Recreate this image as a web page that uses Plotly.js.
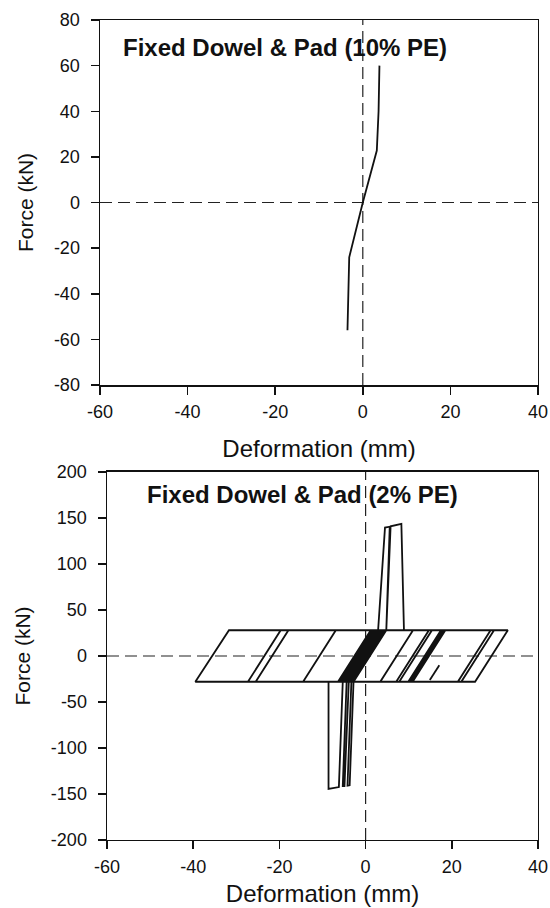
<!DOCTYPE html>
<html>
<head>
<meta charset="utf-8">
<script src="https://cdn.plot.ly/plotly-3.0.1.min.js"></script>
<style>
  html, body { margin: 0; padding: 0; background: #ffffff; }
  #chart { width: 550px; height: 908px; }
</style>
</head>
<body>
<div id="chart"></div>
<script>
// ---------- Texts ----------
const panelTitles = ["Fixed Dowel & Pad (10% PE)", "Fixed Dowel & Pad (2% PE)"];
const xTitle = "Deformation (mm)";
const yTitle = "Force (kN)";

// ---------- Data: top panel (10% PE) ----------
const deform10 = [-3.5, -3.3, -3.1, 0, 3.2, 3.6, 3.8];
const force10  = [-56, -35, -24, 0, 22.8, 40, 60];

// ---------- Data: bottom panel (2% PE) ----------
const deform2 = [
  0, 2.9, 4.5, 5.6, 4.8, -2.8, -3.7, -4.2, -3.3, 4.3, 4.8, 5.8, 8.3, 8.9, 11.0, 3.4,
  -3.9, -4.9, -5.3, -4.4, 3.2, 3.6, -4.0, -4.8, 2.8, 3.4, -4.2, -5.6, 2.0, 2.5, -5.1,
  -6.0, 1.6, 2.2, -5.4, -6.4, 1.2, 1.9, -5.7, -3.0, 4.6, 4.2, -3.4, -3.6, 4.0, 3.0,
  -4.6, -5.0, 2.6, 1.4, -6.2, -5.3, -6.2, -8.6, -8.6, -14.5, -6.9,
  18.5, 10.9, -25.5, -17.9, 29.8, 22.2, -27.3, -19.7, 29.0, 21.4, -39.5, -31.7, 33.0,
  25.4, 7.1, 14.7, 18.0, 10.4, 7.8, 15.4, 17.8, 10.2, 9.9, 17.5, 18.3, 10.7,
  null, 14.9, 17.1
];
const force2 = [
  0, 28, 139.6, 140.5, 28, -28, -140.5, -141, -28, 28, 28, 141, 143.5, 28, 28, -28,
  -28, -141.5, -141.5, -28, 28, 28, -28, -28, 28, 28, -28, -28, 28, 28, -28,
  -28, 28, 28, -28, -28, 28, 28, -28, -28, 28, 28, -28, -28, 28, 28,
  -28, -28, 28, 28, -28, -28, -142.5, -144.5, -28, -28, 28,
  28, -28, -28, 28, 28, -28, -28, 28, 28, -28, -28, 28, 28,
  -28, -28, 28, 28, -28, -28, 28, 28, -28, -28, 28, 28, -28,
  null, -26, -10
];

const xTicks = [-60, -40, -20, 0, 20, 40];
const yTicksTop = [-80, -60, -40, -20, 0, 20, 40, 60, 80];
const yTicksBottom = [-200, -150, -100, -50, 0, 50, 100, 150, 200];

// ---------- Styling ----------
const FONT = "Liberation Sans, Arial, Helvetica, sans-serif";
const ink = "#111111";
const lineStyle = { color: ink, width: 1.8 };

const traces = [
  { x: deform10, y: force10, type: "scatter", mode: "lines", line: lineStyle,
    xaxis: "x", yaxis: "y", showlegend: false, hoverinfo: "skip" },
  { x: deform2, y: force2, type: "scatter", mode: "lines", line: lineStyle,
    connectgaps: false, xaxis: "x2", yaxis: "y2", showlegend: false, hoverinfo: "skip" }
];

function xAxis(domain, anchor, standoff) {
  return {
    domain: domain, anchor: anchor, range: [-60, 40],
    tickvals: xTicks, ticktext: xTicks.map(String),
    ticks: "outside", ticklen: 8, tickwidth: 1.5, tickcolor: ink, ticklabelstandoff: 2,
    showline: true, linecolor: ink, linewidth: 1.5, mirror: true,
    showgrid: false, zeroline: false,
    tickfont: { family: FONT, size: 18, color: ink },
    title: { text: xTitle, font: { family: FONT, size: 24, color: ink }, standoff: standoff }
  };
}
function yAxis(domain, anchor, range, ticks) {
  return {
    domain: domain, anchor: anchor, range: range,
    tickvals: ticks, ticktext: ticks.map(String),
    ticks: "outside", ticklen: 8, tickwidth: 1.5, tickcolor: ink, ticklabelstandoff: 7,
    showline: true, linecolor: ink, linewidth: 1.5, mirror: true,
    showgrid: false, zeroline: false,
    tickfont: { family: FONT, size: 18, color: ink },
    title: { text: yTitle, font: { family: FONT, size: 21, color: ink }, standoff: 14 }
  };
}

const dash = { color: "#222222", width: 1.2, dash: "12px,6px" };

const layout = {
  width: 550, height: 908,
  margin: { l: 0, r: 0, t: 0, b: 0 },
  paper_bgcolor: "#ffffff", plot_bgcolor: "#ffffff",
  showlegend: false,
  xaxis: xAxis([0.18182, 0.97818], "y", 19),
  yaxis: yAxis([0.57599, 0.97797], "x", [-80, 80], yTicksTop),
  xaxis2: xAxis([0.19455, 0.97818], "y2", 9),
  yaxis2: yAxis([0.07489, 0.48018], "x2", [-200, 200], yTicksBottom),
  shapes: [
    { type: "line", xref: "x", yref: "y domain", x0: 0, x1: 0, y0: 0, y1: 1, line: dash, layer: "below" },
    { type: "line", xref: "x domain", yref: "y", x0: 0, x1: 1, y0: 0, y1: 0, line: dash, layer: "below" },
    { type: "line", xref: "x2", yref: "y2 domain", x0: 0, x1: 0, y0: 0, y1: 1, line: dash, layer: "below" },
    { type: "line", xref: "x2 domain", yref: "y2", x0: 0, x1: 1, y0: 0, y1: 0, line: dash, layer: "below" }
  ],
  annotations: [
    { text: "<b>" + panelTitles[0].replace("&", "&amp;") + "</b>", xref: "x domain", yref: "y domain",
      x: 0.047, y: 0.925, xanchor: "left", yanchor: "middle", showarrow: false,
      font: { family: FONT, size: 24, color: ink } },
    { text: "<b>" + panelTitles[1].replace("&", "&amp;") + "</b>", xref: "x2 domain", yref: "y2 domain",
      x: 0.089, y: 0.940, xanchor: "left", yanchor: "middle", showarrow: false,
      font: { family: FONT, size: 24, color: ink } }
  ]
};

Plotly.newPlot("chart", traces, layout, { staticPlot: true, displayModeBar: false });
</script>
</body>
</html>
